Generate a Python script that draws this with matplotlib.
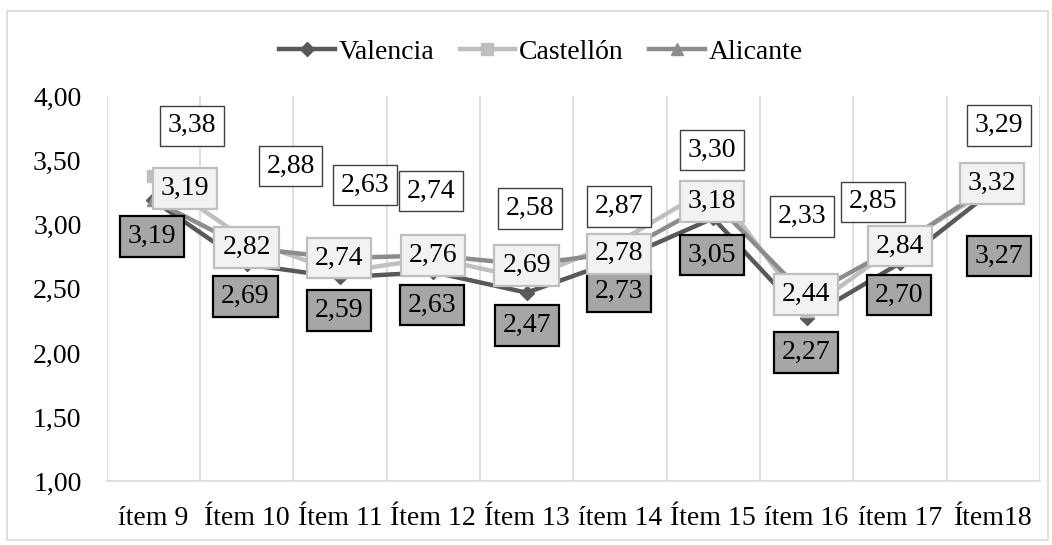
import matplotlib
matplotlib.use('Agg')
import matplotlib.pyplot as plt
from matplotlib.patches import Rectangle
from matplotlib.ticker import FuncFormatter, FixedLocator

plt.rcParams['font.family'] = ['Liberation Serif', 'DejaVu Serif']
plt.rcParams['font.size'] = 20

items = ['ítem 9', 'Ítem 10', 'Ítem 11', 'Ítem 12', 'Ítem 13',
         'ítem 14', 'Ítem 15', 'ítem 16', 'ítem 17', 'Ítem18']
valencia  = [3.19, 2.69, 2.59, 2.63, 2.47, 2.73, 3.05, 2.27, 2.70, 3.27]
castellon = [3.38, 2.88, 2.63, 2.74, 2.58, 2.87, 3.30, 2.33, 2.85, 3.29]
alicante  = [3.19, 2.82, 2.74, 2.76, 2.69, 2.78, 3.18, 2.44, 2.84, 3.32]

# label offsets in pixels (x right, y up) from each point
off_val = [(-1, -36), (-1, -32), (-1, -33), (-1, -33), (0, -33),
           (-1, -32), (-1, -37), (-1, -34), (-1, -32), (6, -66)]
off_cas = [(39, 50), (44, 74), (25, 87), (-2, 67), (3, 70),
           (-1, 35), (-1, 36), (-5, 94), (-27, 42), (6, 62)]
off_ali = [(32, 12), (0, 0), (-1, 0), (0, 0), (0, -1),
           (-1, -1), (-1, 0), (-1, 2), (0, -1), (-1, 0)]

def fmt(v):
    return '{:.2f}'.format(v).replace('.', ',')

fig = plt.figure(figsize=(10.52, 5.45), dpi=100)
fig.patches.append(Rectangle((7/1052, 5/545), 1041/1052, 529/545, transform=fig.transFigure,
                             fill=False, edgecolor='#d9d9d9', linewidth=1.2))
ax = fig.add_axes([106.5/1052, 63.7/545, 933.5/1052, 385/545])

x = list(range(len(items)))
series = [
    ('Valencia', valencia, '#595959', 'D', 7.5, off_val,
     dict(boxstyle='square,pad=0.28', fc='#a6a6a6', ec='black', lw=1.6)),
    ('Castellón', castellon, '#bfbfbf', 's', 8, off_cas,
     dict(boxstyle='square,pad=0.28', fc='white', ec='#404040', lw=1.0)),
    ('Alicante', alicante, '#8c8c8c', '^', 9, off_ali,
     dict(boxstyle='square,pad=0.28', fc='#f2f2f2', ec='#bfbfbf', lw=1.6)),
]

for name, vals, col, mk, ms, offs, box in series:
    ax.plot(x, vals, color=col, lw=3.2, marker=mk, markersize=ms, label=name, zorder=3)

for name, vals, col, mk, ms, offs, box in series:
    for i, v in enumerate(vals):
        ax.annotate(fmt(v), (i, v), xytext=offs[i], textcoords='offset pixels',
                    ha='center', va='center', bbox=box, zorder=5)

ax.set_xlim(-0.5, 9.5)
ax.set_ylim(1, 4)
ax.set_yticks([1, 1.5, 2, 2.5, 3, 3.5, 4])
ax.yaxis.set_major_formatter(FuncFormatter(lambda v, p: fmt(v)))
ax.set_xticks(x)
ax.set_xticklabels(items)
ax.xaxis.set_minor_locator(FixedLocator([i - 0.5 for i in range(len(items) + 1)]))
ax.grid(True, which='minor', axis='x', color='#d9d9d9', lw=1.2)
ax.tick_params(which='both', length=0)
ax.tick_params(axis='y', pad=18)
ax.tick_params(axis='x', pad=18)
for s in ['top', 'right', 'left']:
    ax.spines[s].set_visible(False)
ax.spines['bottom'].set_color('#d9d9d9')
ax.spines['bottom'].set_linewidth(1.2)

fig.legend(loc='center', bbox_to_anchor=(541/1052, 1 - 52/545), ncol=3, frameon=False,
           handlelength=2.0, handletextpad=0.15, columnspacing=0.9)

fig.savefig('out.png', dpi=100)
